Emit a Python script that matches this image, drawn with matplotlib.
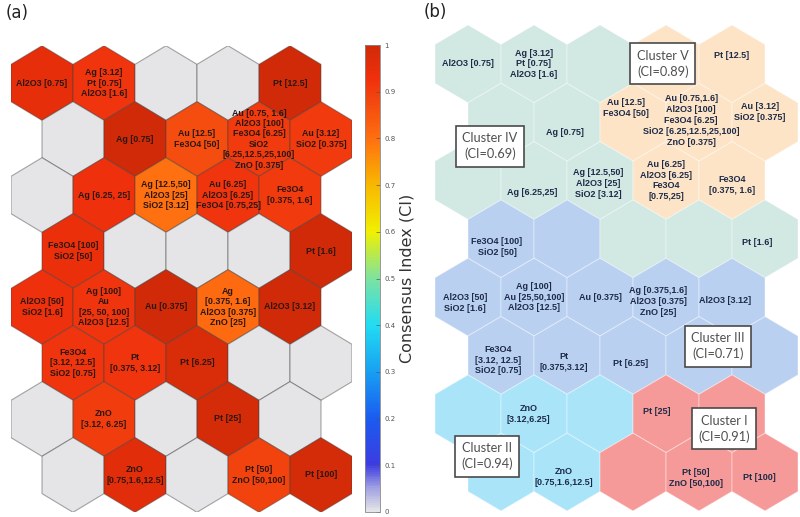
import numpy as np
import matplotlib
matplotlib.use('Agg')
import matplotlib.pyplot as plt
from matplotlib.patches import RegularPolygon
from matplotlib.colors import LinearSegmentedColormap, Normalize
import matplotlib.cm as cm

# ---------------- data ----------------
# Panel (a): labels and consensus index per hexagon, rows top->bottom, 5 columns
labels_a = [
    ["Al2O3 [0.75]", "Ag [3.12]\nPt [0.75]\nAl2O3 [1.6]", "", "", "Pt [12.5]"],
    ["", "Ag [0.75]", "Au [12.5]\nFe3O4 [50]",
     "Au [0.75, 1.6]\nAl2O3 [100]\nFe3O4 [6.25]\nSiO2\n[6.25,12.5,25,100]\nZnO [0.375]",
     "Au [3.12]\nSiO2 [0.375]"],
    ["", "Ag [6.25, 25]", "Ag [12.5,50]\nAl2O3 [25]\nSiO2 [3.12]",
     "Au [6.25]\nAl2O3 [6.25]\nFe3O4 [0.75,25]", "Fe3O4\n[0.375, 1.6]"],
    ["Fe3O4 [100]\nSiO2 [50]", "", "", "", "Pt [1.6]"],
    ["Al2O3 [50]\nSiO2 [1.6]", "Ag [100]\nAu\n[25, 50, 100]\nAl2O3 [12.5]", "Au [0.375]",
     "Ag\n[0.375, 1.6]\nAl2O3 [0.375]\nZnO [25]", "Al2O3 [3.12]"],
    ["Fe3O4\n[3.12, 12.5]\nSiO2 [0.75]", "Pt\n[0.375, 3.12]", "Pt [6.25]", "", ""],
    ["", "ZnO\n[3.12, 6.25]", "", "Pt [25]", ""],
    ["", "ZnO\n[0.75,1.6,12.5]", "", "Pt [50]\nZnO [50,100]", "Pt [100]"],
]
ci_a = [
    [0.95, 0.92, 0.0, 0.0, 1.00],
    [0.0, 1.00, 0.87, 0.91, 0.91],
    [0.0, 0.93, 0.80, 0.92, 0.91],
    [0.94, 0.0, 0.0, 0.0, 1.00],
    [0.93, 0.92, 1.00, 0.81, 1.00],
    [0.92, 0.92, 0.98, 0.0, 0.0],
    [0.0, 0.90, 0.0, 0.99, 0.0],
    [0.0, 0.96, 0.0, 0.89, 0.99],
]

# Panel (b): labels and cluster membership per hexagon
labels_b = [
    ["Al2O3 [0.75]", "Ag [3.12]\nPt [0.75]\nAl2O3 [1.6]", "", "", "Pt [12.5]"],
    ["", "Ag [0.75]", "Au [12.5]\nFe3O4 [50]",
     "Au [0.75,1.6]\nAl2O3 [100]\nFe3O4 [6.25]\nSiO2 [6.25,12.5,25,100]\nZnO [0.375]",
     "Au [3.12]\nSiO2 [0.375]"],
    ["", "Ag [6.25,25]", "Ag [12.5,50]\nAl2O3 [25]\nSiO2 [3.12]",
     "Au [6.25]\nAl2O3 [6.25]\nFe3O4\n[0.75,25]", "Fe3O4\n[0.375, 1.6]"],
    ["Fe3O4 [100]\nSiO2 [50]", "", "", "", "Pt [1.6]"],
    ["Al2O3 [50]\nSiO2 [1.6]", "Ag [100]\nAu [25,50,100]\nAl2O3 [12.5]", "Au [0.375]",
     "Ag [0.375,1.6]\nAl2O3 [0.375]\nZnO [25]", "Al2O3 [3.12]"],
    ["Fe3O4\n[3.12, 12.5]\nSiO2 [0.75]", "Pt\n[0.375,3.12]", "Pt [6.25]", "", ""],
    ["", "ZnO\n[3.12,6.25]", "", "Pt [25]", ""],
    ["", "ZnO\n[0.75,1.6,12.5]", "", "Pt [50]\nZnO [50,100]", "Pt [100]"],
]
cluster_b = [
    [4, 4, 4, 5, 5],
    [4, 4, 5, 5, 5],
    [4, 4, 4, 5, 5],
    [3, 3, 4, 4, 4],
    [3, 3, 3, 3, 3],
    [3, 3, 3, 3, 3],
    [2, 2, 2, 1, 1],
    [2, 2, 1, 1, 1],
]
cluster_names = ["Cluster I", "Cluster II", "Cluster III", "Cluster IV", "Cluster V"]
cluster_ci = [0.91, 0.94, 0.71, 0.69, 0.89]

cbar_ticks = [0, 0.1, 0.2, 0.3, 0.4, 0.5, 0.6, 0.7, 0.8, 0.9, 1]

# ---------------- layout / styles ----------------
# cluster box anchors (row, col) in hex-grid units
cluster_box_row = [6.26, 6.73, 4.84, 1.41, 0.0]
cluster_box_col = [3.88, 0.29, 3.79, 0.33, 2.95]
# small label nudges in panel (b): (row, col) -> (d_col, d_row)
label_nudge_b = {
    (0, 4): (0.0, -0.15), (1, 1): (-0.03, 0.17), (1, 2): (-0.1, -0.24),
    (1, 3): (-0.12, -0.03), (1, 4): (-0.08, -0.17), (2, 1): (-0.03, 0.2),
    (2, 2): (-0.03, 0.05), (2, 4): (0.0, 0.08), (3, 0): (-0.06, 0.14),
    (3, 4): (-0.12, 0.07), (4, 0): (-0.04, 0.1), (4, 3): (-0.12, 0.07),
    (4, 4): (-0.1, 0.05), (5, 0): (-0.05, 0.08), (5, 1): (-0.05, 0.12),
    (5, 2): (-0.04, 0.14), (6, 1): (-0.08, 0.0), (6, 3): (-0.14, -0.03),
    (7, 1): (-0.05, 0.08), (7, 3): (-0.05, 0.1), (7, 4): (-0.08, 0.1),
}

cluster_colors = {1: '#f59a98', 2: '#a9e4f9', 3: '#b9d0f1', 4: '#d1e8e3', 5: '#fde4c7'}
cmap = LinearSegmentedColormap.from_list('ci', [
    (0.0, '#e5e5e7'), (0.05, '#a0a0e2'), (0.1, '#3c3ce0'), (0.2, '#1a5cf0'),
    (0.3, '#18a0f2'), (0.4, '#22dcf2'), (0.5, '#7ee2a0'), (0.6, '#f0f000'),
    (0.7, '#f8b800'), (0.8, '#ff7010'), (0.88, '#f2480f'), (0.93, '#f0300c'),
    (1.0, '#d02a08')])
norm = Normalize(0, 1)

W, H = 800, 517
fig = plt.figure(figsize=(W / 100, H / 100), dpi=100)


def px_axes(x0, x1, y0, y1):
    return fig.add_axes([x0 / W, 1 - y1 / H, (x1 - x0) / W, (y1 - y0) / H])


S3 = np.sqrt(3)


def hex_center(r, c):
    return c * S3 + (r % 2) * S3 / 2, -1.5 * r


def setup(ax):
    ax.set_xlim(-S3 / 2, 4 * S3 + S3)
    ax.set_ylim(-11.5, 1)
    ax.set_aspect('auto')
    ax.axis('off')


def line_label(ax, x, y, text, fs, color, ls=1.2):
    """Draw a multi-line label one line at a time, centred on (x, y)."""
    lines = text.split("\n")
    n = len(lines)
    step = fs * ls
    for i, ln in enumerate(lines):
        ax.annotate(ln, (x, y), xytext=(0, ((n - 1) / 2 - i) * step),
                    textcoords='offset points', ha='center', va='center',
                    fontsize=fs, fontweight='bold', family='Liberation Sans',
                    color=color, zorder=5)


# ---------------- panel (a) ----------------
ax_a = px_axes(11, 352, 45.7, 512.3)
setup(ax_a)
for r, row in enumerate(ci_a):
    for c, v in enumerate(row):
        x, y = hex_center(r, c)
        ax_a.add_patch(RegularPolygon((x, y), 6, radius=1, orientation=0,
                                      facecolor=cmap(norm(v)),
                                      edgecolor=(0.25, 0.25, 0.25, 0.45), lw=0.8))
        if labels_a[r][c]:
            ax_a.text(x, y, labels_a[r][c], ha='center', va='center',
                      fontsize=6.4, fontweight='bold', family='Liberation Sans',
                      color='#2b1712', linespacing=1.2, zorder=5)

fig.text(6 / W, 1 - 4 / H, "(a)", ha='left', va='top', fontsize=12, color='#222222')

# colorbar
cax = px_axes(365, 380, 45, 512)
sm = cm.ScalarMappable(norm=norm, cmap=cmap)
cb = fig.colorbar(sm, cax=cax, ticks=cbar_ticks)
cb.ax.set_yticklabels([("%g" % t) for t in cbar_ticks])
cb.ax.tick_params(direction='in', length=3, width=0.5, labelsize=5,
                  colors='#555555', pad=3)
cb.outline.set_linewidth(0.6)
cb.outline.set_edgecolor('#888888')
cb.set_label("Consensus Index (CI)", fontsize=11.5, color='#333333', labelpad=3)

# ---------------- panel (b) ----------------
ax_b = px_axes(435, 798, 25, 510.9)
setup(ax_b)
for r, row in enumerate(cluster_b):
    for c, k in enumerate(row):
        x, y = hex_center(r, c)
        ax_b.add_patch(RegularPolygon((x, y), 6, radius=1, orientation=0,
                                      facecolor=cluster_colors[k],
                                      edgecolor=(1, 1, 1, 0.35), lw=0.8))
        if labels_b[r][c]:
            dc, dr = label_nudge_b.get((r, c), (0.0, 0.0))
            line_label(ax_b, x + dc * S3, y - 1.5 * dr, labels_b[r][c], 6.5, '#1e2b48')

for name, ci, br, bc in zip(cluster_names, cluster_ci, cluster_box_row, cluster_box_col):
    x = bc * S3
    y = -1.5 * br
    ax_b.text(x, y, "%s\n(CI=%.2f)" % (name, ci), ha='center', va='center',
              fontsize=9.2, family='Lato', color='#505050', linespacing=1.35, zorder=6,
              bbox=dict(boxstyle='square,pad=0.5', fc='white', ec='#4a4a4a', lw=1.2))

fig.text(424 / W, 1 - 3 / H, "(b)", ha='left', va='top', fontsize=12, color='#222222')

fig.savefig('out.png', dpi=100)
